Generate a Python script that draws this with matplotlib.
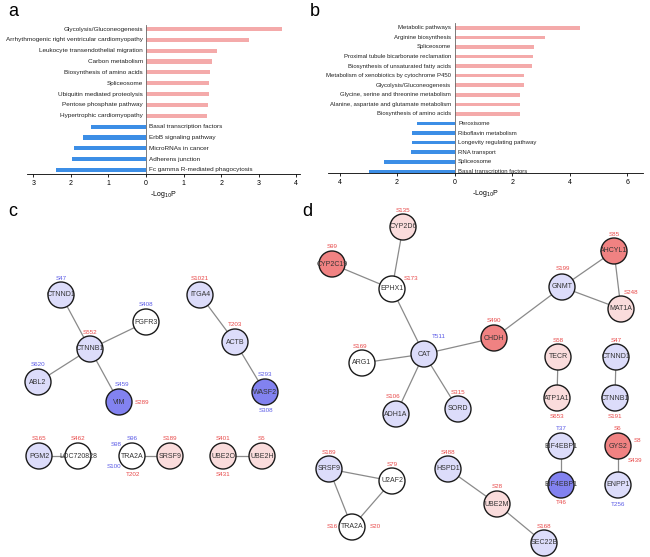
import matplotlib
matplotlib.use("Agg")
import matplotlib.pyplot as plt
from matplotlib.patches import Circle

plt.rcParams['font.family'] = ['Liberation Sans', 'DejaVu Sans']

# ---- panel a data ----
a_up_terms = ['Glycolysis/Gluconeogenesis', 'Arrhythmogenic right ventricular cardiomyopathy',
              'Leukocyte transendothelial migration', 'Carbon metabolism',
              'Biosynthesis of amino acids', 'Spliceosome', 'Ubiquitin mediated proteolysis',
              'Pentose phosphate pathway', 'Hypertrophic cardiomyopathy']
a_up_vals = [3.63, 2.73, 1.89, 1.76, 1.69, 1.68, 1.67, 1.65, 1.63]
a_down_terms = ['Basal transcription factors', 'ErbB signaling pathway', 'MicroRNAs in cancer',
                'Adherens junction', 'Fc gamma R-mediated phagocytosis']
a_down_vals = [1.46, 1.67, 1.92, 1.97, 2.40]

# ---- panel b data ----
b_up_terms = ['Metabolic pathways', 'Arginine biosynthesis', 'Spliceosome',
              'Proximal tubule bicarbonate reclamation', 'Biosynthesis of unsaturated fatty acids',
              'Metabolism of xenobiotics by cytochrome P450', 'Glycolysis/Gluconeogenesis',
              'Glycine, serine and threonine metabolism',
              'Alanine, aspartate and glutamate metabolism', 'Biosynthesis of amino acids']
b_up_vals = [4.36, 3.13, 2.77, 2.73, 2.67, 2.40, 2.40, 2.26, 2.26, 2.26]
b_down_terms = ['Peroxisome', 'Riboflavin metabolism', 'Longevity regulating pathway',
                'RNA transport', 'Spliceosome', 'Basal transcription factors']
b_down_vals = [1.32, 1.47, 1.49, 1.51, 2.44, 2.96]

# ---- network data (c, d) ----
# node id -> (gene label, fill class)
nodes = {
    'c_CTNND1': ('CTNND1', 'lb'), 'c_FGFR3': ('FGFR3', 'w'), 'c_CTNNB1': ('CTNNB1', 'lb'),
    'c_ABL2': ('ABL2', 'lb'), 'c_VIM': ('VIM', 'db'), 'c_ITGA4': ('ITGA4', 'lb'),
    'c_ACTB': ('ACTB', 'lb'), 'c_WASF2': ('WASF2', 'db'), 'c_PGM2': ('PGM2', 'lb'),
    'c_LOC': ('LOC720828', 'w'), 'c_TRA2A': ('TRA2A', 'w'), 'c_SRSF9': ('SRSF9', 'lr'),
    'c_UBE2O': ('UBE2O', 'lr'), 'c_UBE2H': ('UBE2H', 'lr'),
    'd_CYP2D6': ('CYP2D6', 'lr'), 'd_CYP2C19': ('CYP2C19', 'r'), 'd_EPHX1': ('EPHX1', 'w'),
    'd_AHCYL1': ('AHCYL1', 'r'), 'd_MAT1A': ('MAT1A', 'lr'), 'd_GNMT': ('GNMT', 'lb'),
    'd_CHDH': ('CHDH', 'r'), 'd_CAT': ('CAT', 'lb'), 'd_ARG1': ('ARG1', 'w'),
    'd_TECR': ('TECR', 'lr'), 'd_CTNND1': ('CTNND1', 'lb'), 'd_ADH1A': ('ADH1A', 'lb'),
    'd_SORD': ('SORD', 'lb'), 'd_ATP1A1': ('ATP1A1', 'lr'), 'd_CTNNB1': ('CTNNB1', 'lb'),
    'd_EIF1': ('EIF4EBP1', 'lb'), 'd_EIF2': ('EIF4EBP1', 'db'), 'd_GYS2': ('GYS2', 'r'),
    'd_ENPP1': ('ENPP1', 'lb'), 'd_SRSF9': ('SRSF9', 'lb'), 'd_U2AF2': ('U2AF2', 'w'),
    'd_TRA2A': ('TRA2A', 'w'), 'd_HSPD1': ('HSPD1', 'lb'), 'd_UBE2M': ('UBE2M', 'lr'),
    'd_SEC22B': ('SEC22B', 'lb'),
}
edges = [('c_CTNND1', 'c_CTNNB1'), ('c_CTNNB1', 'c_FGFR3'), ('c_CTNNB1', 'c_ABL2'),
         ('c_CTNNB1', 'c_VIM'), ('c_ITGA4', 'c_ACTB'), ('c_ACTB', 'c_WASF2'),
         ('c_PGM2', 'c_LOC'), ('c_TRA2A', 'c_SRSF9'), ('c_UBE2O', 'c_UBE2H'),
         ('d_CYP2D6', 'd_EPHX1'), ('d_CYP2C19', 'd_EPHX1'), ('d_EPHX1', 'd_CAT'),
         ('d_CAT', 'd_ARG1'), ('d_CAT', 'd_CHDH'), ('d_CAT', 'd_ADH1A'), ('d_CAT', 'd_SORD'),
         ('d_CHDH', 'd_GNMT'), ('d_GNMT', 'd_AHCYL1'), ('d_GNMT', 'd_MAT1A'),
         ('d_AHCYL1', 'd_MAT1A'), ('d_TECR', 'd_ATP1A1'), ('d_CTNND1', 'd_CTNNB1'),
         ('d_EIF1', 'd_EIF2'), ('d_GYS2', 'd_ENPP1'), ('d_SRSF9', 'd_U2AF2'),
         ('d_SRSF9', 'd_TRA2A'), ('d_U2AF2', 'd_TRA2A'), ('d_HSPD1', 'd_UBE2M'),
         ('d_UBE2M', 'd_SEC22B')]
# phosphosites: (node, site, up/down class)
sites = [('c_CTNND1', 'S47', 'b'), ('c_FGFR3', 'S408', 'b'), ('c_CTNNB1', 'S552', 'r'),
         ('c_ABL2', 'S620', 'b'), ('c_VIM', 'S459', 'b'), ('c_VIM', 'S289', 'r'),
         ('c_ITGA4', 'S1021', 'r'), ('c_ACTB', 'T203', 'r'), ('c_WASF2', 'S293', 'b'),
         ('c_WASF2', 'S308', 'b'), ('c_PGM2', 'S165', 'r'), ('c_LOC', 'S462', 'r'),
         ('c_TRA2A', 'S96', 'b'), ('c_TRA2A', 'S98', 'b'), ('c_TRA2A', 'S100', 'b'),
         ('c_TRA2A', 'T202', 'r'), ('c_SRSF9', 'S189', 'r'), ('c_UBE2O', 'S401', 'r'),
         ('c_UBE2O', 'S431', 'r'), ('c_UBE2H', 'S5', 'r'),
         ('d_CYP2D6', 'S135', 'r'), ('d_CYP2C19', 'S99', 'r'), ('d_EPHX1', 'S173', 'r'),
         ('d_AHCYL1', 'S85', 'r'), ('d_MAT1A', 'S248', 'r'), ('d_GNMT', 'S199', 'r'),
         ('d_CHDH', 'S490', 'r'), ('d_CAT', 'T511', 'b'), ('d_ARG1', 'S169', 'r'),
         ('d_TECR', 'S58', 'r'), ('d_CTNND1', 'S47', 'r'), ('d_ADH1A', 'S106', 'r'),
         ('d_SORD', 'S315', 'r'), ('d_ATP1A1', 'S653', 'r'), ('d_CTNNB1', 'S191', 'r'),
         ('d_EIF1', 'T37', 'b'), ('d_EIF2', 'T46', 'r'), ('d_GYS2', 'S6', 'r'),
         ('d_GYS2', 'S8', 'r'), ('d_GYS2', 'S439', 'r'), ('d_ENPP1', 'T256', 'b'),
         ('d_SRSF9', 'S189', 'r'), ('d_U2AF2', 'S79', 'r'), ('d_TRA2A', 'S16', 'r'),
         ('d_TRA2A', 'S20', 'r'), ('d_HSPD1', 'S488', 'r'), ('d_UBE2M', 'S28', 'r'),
         ('d_SEC22B', 'S168', 'r')]

# ---- layout (pixel positions of the network drawing) ----
layout = {
    'c_CTNND1': (61, 295), 'c_FGFR3': (146, 322), 'c_CTNNB1': (90, 349), 'c_ABL2': (38, 382),
    'c_VIM': (119, 402), 'c_ITGA4': (200, 295), 'c_ACTB': (235, 342), 'c_WASF2': (265, 392),
    'c_PGM2': (39, 456), 'c_LOC': (78, 456), 'c_TRA2A': (132, 456), 'c_SRSF9': (170, 456),
    'c_UBE2O': (223, 456), 'c_UBE2H': (262, 456),
    'd_CYP2D6': (403, 227), 'd_CYP2C19': (332, 264), 'd_EPHX1': (392, 289),
    'd_AHCYL1': (614, 251), 'd_MAT1A': (621, 309), 'd_GNMT': (562, 287), 'd_CHDH': (494, 338),
    'd_CAT': (424, 354), 'd_ARG1': (362, 363), 'd_TECR': (558, 357), 'd_CTNND1': (616, 357),
    'd_ADH1A': (396, 414), 'd_SORD': (458, 409), 'd_ATP1A1': (557, 398),
    'd_CTNNB1': (615, 398), 'd_EIF1': (561, 446), 'd_EIF2': (561, 485), 'd_GYS2': (618, 446),
    'd_ENPP1': (618, 485), 'd_SRSF9': (329, 469), 'd_U2AF2': (392, 481),
    'd_TRA2A': (352, 527), 'd_HSPD1': (448, 469), 'd_UBE2M': (497, 504),
    'd_SEC22B': (544, 543),
}
# site label offsets, default is directly above the node
site_offsets = {
    ('c_VIM', 'S459'): (3, -17), ('c_VIM', 'S289'): (23, 0), ('c_WASF2', 'S308'): (1, 18),
    ('c_TRA2A', 'S98'): (-16, -12), ('c_TRA2A', 'S100'): (-18, 11),
    ('c_TRA2A', 'T202'): (1, 18), ('c_UBE2O', 'S431'): (0, 18),
    ('d_EPHX1', 'S173'): (19, -11), ('d_MAT1A', 'S248'): (10, -17),
    ('d_GNMT', 'S199'): (1, -19), ('d_CAT', 'T511'): (15, -17),
    ('d_ARG1', 'S169'): (-2, -17), ('d_ADH1A', 'S106'): (-3, -18),
    ('d_ATP1A1', 'S653'): (0, 18), ('d_CTNNB1', 'S191'): (0, 18),
    ('d_EIF2', 'T46'): (0, 18), ('d_GYS2', 'S8'): (20, -5), ('d_GYS2', 'S439'): (17, 14),
    ('d_ENPP1', 'T256'): (0, 19), ('d_TRA2A', 'S16'): (-20, 0), ('d_TRA2A', 'S20'): (23, 0),
}

fills = {'lb': '#dcdcfa', 'db': '#8282f0', 'lr': '#fadcdc', 'r': '#f08282', 'w': 'white'}
site_colors = {'r': '#e84848', 'b': '#5a5ae6'}
pink = '#f4aaaa'
blue = '#3c8ee6'
W, H = 650, 557


def bar_panel(rect, up_terms, up_vals, down_terms, down_vals, xlim, ticks, ylim, fs):
    ax = fig.add_axes(rect)
    n = len(up_terms) + len(down_terms)
    ys = list(range(n - 1, -1, -1))
    ax.barh(ys[:len(up_terms)], up_vals, height=0.38, color=pink)
    ax.barh(ys[len(up_terms):], [-v for v in down_vals], height=0.38, color=blue)
    pad = 0.08 * (xlim[1] - xlim[0]) / 7.3
    for y, t in zip(ys[:len(up_terms)], up_terms):
        ax.text(-pad, y, t, ha='right', va='center', fontsize=fs, color='#222222')
    for y, t in zip(ys[len(up_terms):], down_terms):
        ax.text(pad, y, t, ha='left', va='center', fontsize=fs, color='#222222')
    ax.axvline(0, color='#666666', lw=0.6)
    ax.set_xlim(*xlim)
    ax.set_ylim(*ylim)
    ax.set_xticks(ticks)
    ax.set_xticklabels([str(abs(t)) for t in ticks], fontsize=5)
    ax.tick_params(axis='x', length=2.5, width=0.6, pad=2)
    ax.set_yticks([])
    for s in ['top', 'right', 'left']:
        ax.spines[s].set_visible(False)
    ax.spines['bottom'].set_linewidth(0.6)
    ax.set_xlabel('-Log$_{10}$P', fontsize=5, labelpad=1)
    return ax


fig = plt.figure(figsize=(6.5, 5.57), dpi=100)

bar_panel([27 / W, 1 - 174 / H, 273 / W, 149 / H], a_up_terms, a_up_vals,
          a_down_terms, a_down_vals, (-3.17, 4.1), [-3, -2, -1, 0, 1, 2, 3, 4],
          (-0.37, 13.37), 4.6)
bar_panel([328 / W, 1 - 173 / H, 315 / W, 150 / H], b_up_terms, b_up_vals,
          b_down_terms, b_down_vals, (-4.4, 6.54), [-4, -2, 0, 2, 4, 6],
          (-0.17, 15.5), 4.3)

net = fig.add_axes([0, 0, 1, 1], zorder=-1)
net.set_xlim(0, W)
net.set_ylim(H, 0)
net.axis('off')

for u, v in edges:
    (x1, y1), (x2, y2) = layout[u], layout[v]
    net.plot([x1, x2], [y1, y2], color='#8a8a8a', lw=0.9, zorder=1)
for key, (gene, cls) in nodes.items():
    x, y = layout[key]
    net.add_patch(Circle((x, y), 13, facecolor=fills[cls], edgecolor='#1a1a1a', lw=1.0, zorder=2))
    net.text(x, y, gene, ha='center', va='center', fontsize=5, color='#333333', zorder=3)
for key, site, cls in sites:
    x, y = layout[key]
    dx, dy = site_offsets.get((key, site), (0, -17))
    net.text(x + dx, y + dy, site, ha='center', va='center', fontsize=4.5,
             color=site_colors[cls], zorder=3)

for lab, x, y in [('a', 8, 12), ('b', 310, 12), ('c', 8, 212), ('d', 302, 212)]:
    fig.text(x / W, 1 - y / H, lab, fontsize=13, ha='left', va='center')

fig.savefig('out.png', dpi=100)
